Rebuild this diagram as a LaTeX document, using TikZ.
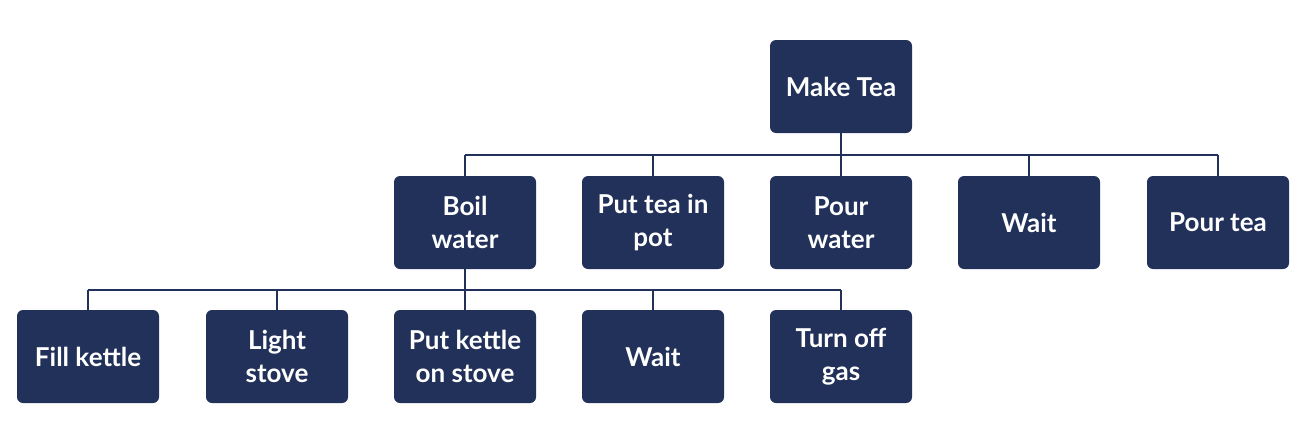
\documentclass[tikz,border=0pt]{standalone}
\usepackage{fontspec}
\setmainfont{Lato}
\definecolor{navy}{HTML}{223159}
\begin{document}
\begin{tikzpicture}[x=1pt,y=-1pt,
  box/.style={fill=navy,draw=none,rounded corners=6pt,minimum width=142pt,minimum height=93pt,
    text=white,align=center,font=\fontsize{26}{33}\selectfont\bfseries,inner sep=0pt},
  link/.style={draw=navy,line width=2pt}]
\useasboundingbox (0,0) rectangle (1312,434);
\node[box] (mt) at (841,86.5) {Make Tea};
\node[box] (bw) at (465,222.5) {Boil\\water};
\node[box] (pt) at (653,222.5) {Put tea in\\pot};
\node[box] (pw) at (841,222.5) {Pour\\water};
\node[box] (w1) at (1029,222.5) {Wait};
\node[box] (ptea) at (1218,222.5) {Pour tea};
\node[box] (fk) at (88,356.5) {Fill kettle};
\node[box] (ls) at (277,356.5) {Light\\stove};
\node[box] (pk) at (465,356.5) {Put kettle\\on stove};
\node[box] (w2) at (653,356.5) {Wait};
\node[box] (tg) at (841,356.5) {Turn off\\gas};
\coordinate (b1) at (841,155);
\coordinate (b2) at (465,290);
\draw[link] (mt.south) -- (b1);
\foreach \n in {bw,pt,pw,w1,ptea}
  \draw[link] (b1 -| \n.north) -- (\n.north);
\draw[link] (b1 -| bw.north) -- (b1 -| ptea.north);
\draw[link] (bw.south) -- (b2);
\foreach \n in {fk,ls,pk,w2,tg}
  \draw[link] (b2 -| \n.north) -- (\n.north);
\draw[link] (b2 -| fk.north) -- (b2 -| tg.north);
\end{tikzpicture}
\end{document}
